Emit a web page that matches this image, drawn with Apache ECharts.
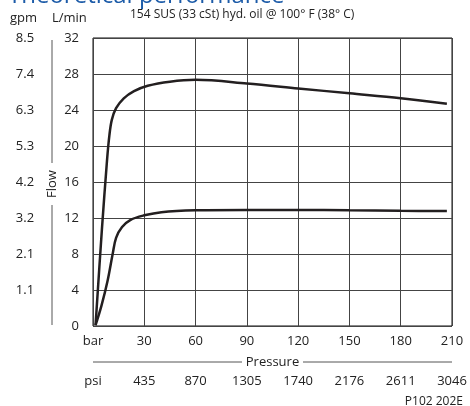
<!DOCTYPE html>
<html>
<head>
<meta charset="utf-8">
<script src="https://cdn.jsdelivr.net/npm/echarts@6/dist/echarts.min.js"></script>
<style>html,body{margin:0;padding:0;background:#fff}#c{width:470px;height:406px}</style>
</head>
<body>
<div id="c"></div>
<script>
// ---- data ----
var upperCurve = [[1.5,0.1],[5.2,10.7],[8.2,18.4],[9.6,21.2],[11,22.9],[13.5,24.2],[18,25.3],[24,26.1],[32,26.7],[45,27.15],[60,27.35],[90,26.95],[120,26.4],[150,25.85],[180,25.3],[207,24.7]];
var lowerCurve = [[1.5,0.1],[5,2.3],[8.5,5],[11.5,8],[13.5,9.8],[17,11],[22,11.8],[30,12.3],[40,12.65],[60,12.85],[90,12.9],[120,12.9],[150,12.85],[180,12.8],[207,12.78]];
var barTicks = ['bar','30','60','90','120','150','180','210'];
var psiTicks = ['psi','435','870','1305','1740','2176','2611','3046'];
var lminTicks = ['0','4','8','12','16','20','24','28','32'];
var gpmTicks = ['','1.1','2.1','3.2','4.2','5.3','6.3','7.4','8.5'];

var FONT = 'Open Sans';
var chart = echarts.init(document.getElementById('c'), null, {renderer:'canvas'});
var gridColor = '#444';
chart.setOption({
  animation: false,
  textStyle: {fontFamily: FONT},
  grid: {left: 93, right: 18, top: 38, bottom: 80, show: true, borderColor: '#111', borderWidth: 1},
  xAxis: [
    {type:'value', min:0, max:210, interval:30, position:'bottom',
     axisLine:{show:false}, axisTick:{show:false},
     splitLine:{show:true, lineStyle:{color:gridColor, width:1}},
     axisLabel:{margin:9, fontFamily:FONT, fontSize:13, color:'#222',
       formatter:function(v){return barTicks[Math.round(v/30)];}}},
    {type:'value', min:0, max:210, interval:30, position:'bottom', offset:40,
     axisLine:{show:false}, axisTick:{show:false}, splitLine:{show:false},
     axisLabel:{margin:9, fontFamily:FONT, fontSize:13, color:'#222',
       formatter:function(v){return psiTicks[Math.round(v/30)];}}}
  ],
  yAxis: [
    {type:'value', min:0, max:32, interval:4, position:'left',
     axisLine:{show:false}, axisTick:{show:false},
     splitLine:{show:true, lineStyle:{color:gridColor, width:1}},
     axisLabel:{margin:14, fontFamily:FONT, fontSize:13, color:'#222',
       formatter:function(v){return lminTicks[Math.round(v/4)];}}},
    {type:'value', min:0, max:32, interval:4, position:'left', offset:68,
     axisLine:{show:false}, axisTick:{show:false}, splitLine:{show:false},
     axisLabel:{margin:0, fontFamily:FONT, fontSize:13, color:'#222', align:'center',
       formatter:function(v){return gpmTicks[Math.round(v/4)];}}}
  ],
  series: [
    {type:'line', data: upperCurve, smooth:0.35, symbol:'none', xAxisIndex:0, yAxisIndex:0,
     lineStyle:{color:'#231f20', width:2.5}},
    {type:'line', data: lowerCurve, smooth:0.35, symbol:'none', xAxisIndex:0, yAxisIndex:0,
     lineStyle:{color:'#231f20', width:2.5}}
  ],
  graphic: [
    {type:'text', left:8, top:-16, style:{text:'Theoretical performance', fontFamily:FONT, fontSize:24, fill:'#1c5ba8'}},
    {type:'text', x:10, y:18, style:{text:'gpm', fontFamily:FONT, fontSize:13, fill:'#222', verticalAlign:'middle'}},
    {type:'text', x:52, y:18, style:{text:'L/min', fontFamily:FONT, fontSize:13, fill:'#222', verticalAlign:'middle'}},
    {type:'text', x:130, y:15, style:{text:'154 SUS (33 cSt) hyd. oil @ 100° F (38° C)', fontFamily:FONT, fontSize:12, fill:'#222', verticalAlign:'middle'}},
    {type:'line', shape:{x1:52, y1:40, x2:52, y2:163}, style:{stroke:'#555', lineWidth:1}},
    {type:'line', shape:{x1:52, y1:205, x2:52, y2:325}, style:{stroke:'#555', lineWidth:1}},
    {type:'text', x:52, y:184, rotation:Math.PI/2, style:{text:'Flow', fontFamily:FONT, fontSize:13, fill:'#222', align:'center', verticalAlign:'middle'}},
    {type:'line', shape:{x1:93, y1:362, x2:242, y2:362}, style:{stroke:'#555', lineWidth:1}},
    {type:'line', shape:{x1:303, y1:362, x2:452, y2:362}, style:{stroke:'#555', lineWidth:1}},
    {type:'text', x:272.5, y:362, style:{text:'Pressure', fontFamily:FONT, fontSize:13, fill:'#222', align:'center', verticalAlign:'middle'}},
    {type:'text', x:463, y:402, style:{text:'P102 202E', fontFamily:FONT, fontSize:12, fill:'#222', align:'right', verticalAlign:'middle'}}
  ]
});
</script>
</body>
</html>
